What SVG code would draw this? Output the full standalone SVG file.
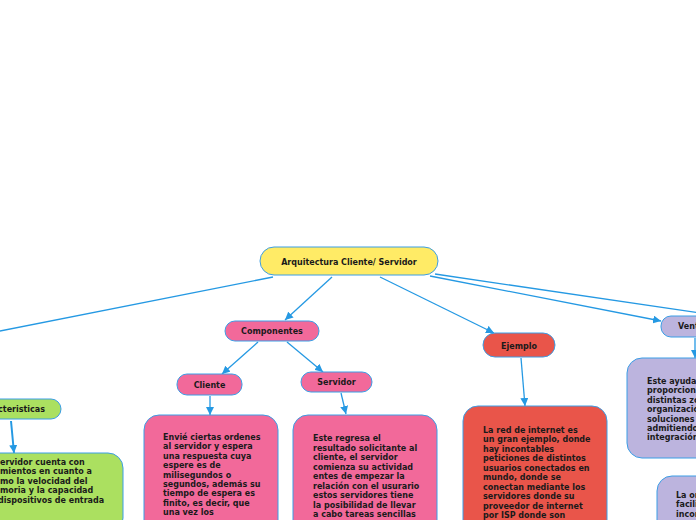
<svg xmlns="http://www.w3.org/2000/svg" width="696" height="520" viewBox="0 0 696 520">
<defs>
<style>
.t{font-family:"DejaVu Sans","Verdana",sans-serif;font-weight:bold;font-size:8px;fill:#1a1a1a}
.c{text-anchor:middle}
.ln{stroke:#2599e3;stroke-width:1.3;fill:none}
.nd{stroke:#3b9ee6;stroke-width:1}
.yel{fill:#ffeb66}
.pink{fill:#f2699a}
.red{fill:#e9554a}
.grn{fill:#abe060}
.lav{fill:#bcb4de}
</style>
<marker id="arr" viewBox="0 0 10 10" refX="10" refY="5" markerWidth="8" markerHeight="8" orient="auto" markerUnits="userSpaceOnUse"><path d="M0,0 L10,5 L0,10 z" fill="#2599e3"/></marker>
</defs>
<rect width="696" height="520" fill="#ffffff"/>
<g id="connectors">
<line class="ln" x1="273" y1="277" x2="-10" y2="333"/>
<line class="ln" x1="332" y1="277" x2="285" y2="320" marker-end="url(#arr)"/>
<line class="ln" x1="380" y1="277" x2="494" y2="333" marker-end="url(#arr)"/>
<line class="ln" x1="430" y1="276" x2="661" y2="321" marker-end="url(#arr)"/>
<line class="ln" x1="435" y1="274" x2="700" y2="313"/>
<line class="ln" x1="258" y1="342" x2="222" y2="374" marker-end="url(#arr)"/>
<line class="ln" x1="287" y1="342" x2="323" y2="372" marker-end="url(#arr)"/>
<line class="ln" x1="210" y1="396" x2="210" y2="415" marker-end="url(#arr)"/>
<line class="ln" x1="341" y1="393" x2="346" y2="414" marker-end="url(#arr)"/>
<line class="ln" x1="521" y1="358" x2="525" y2="406" marker-end="url(#arr)"/>
<line class="ln" style="stroke-width:2" x1="11" y1="421" x2="14" y2="453" marker-end="url(#arr)"/>
<line class="ln" x1="695" y1="338" x2="695" y2="358" marker-end="url(#arr)"/>
</g>
<g id="main">
<rect class="nd yel" x="260" y="247" width="178" height="28" rx="14"/>
<text class="t c" x="349" y="265">Arquitectura Cliente/ Servidor</text>
</g>
<g id="componentes">
<rect class="nd pink" x="225" y="321" width="94" height="20" rx="10"/>
<text class="t c" x="272" y="334">Componentes</text>
</g>
<g id="cliente">
<rect class="nd pink" x="177" y="374" width="65" height="21" rx="10"/>
<text class="t c" x="209.5" y="388">Cliente</text>
</g>
<g id="servidor">
<rect class="nd pink" x="301" y="372" width="71" height="20" rx="10"/>
<text class="t c" x="336.5" y="385">Servidor</text>
</g>
<g id="ejemplo">
<rect class="nd red" x="483" y="333" width="72" height="24" rx="12"/>
<text class="t c" x="519" y="349">Ejemplo</text>
</g>
<g id="ventajas">
<rect class="nd lav" x="661" y="316" width="90" height="21" rx="10"/>
<text class="t" x="678" y="329">Ventajas</text>
</g>
<g id="caracteristicas">
<rect class="nd grn" x="-60" y="399" width="121" height="20" rx="10"/>
<text class="t" text-anchor="end" x="45" y="412">Caracteristicas</text>
</g>
<g id="cliente-desc">
<rect class="nd pink" x="144" y="415" width="134" height="130" rx="15"/>
<text class="t" x="163" y="440">
<tspan x="163" dy="0">Envié ciertas ordenes</tspan>
<tspan x="163" dy="9.4">al servidor y espera</tspan>
<tspan x="163" dy="9.4">una respuesta cuya</tspan>
<tspan x="163" dy="9.4">espere es de</tspan>
<tspan x="163" dy="9.4">milisegundos o</tspan>
<tspan x="163" dy="9.4">segundos, además su</tspan>
<tspan x="163" dy="9.4">tiempo de espera es</tspan>
<tspan x="163" dy="9.4">finito, es decir, que</tspan>
<tspan x="163" dy="9.4">una vez los</tspan>
</text>
</g>
<g id="servidor-desc">
<rect class="nd pink" x="293" y="415" width="144" height="130" rx="15"/>
<text class="t" x="313" y="441">
<tspan x="313" dy="0">Este regresa el</tspan>
<tspan x="313" dy="9.5">resultado solicitante al</tspan>
<tspan x="313" dy="9.5">cliente, el servidor</tspan>
<tspan x="313" dy="9.5">comienza su actividad</tspan>
<tspan x="313" dy="9.5">entes de empezar la</tspan>
<tspan x="313" dy="9.5">relación con el usurario</tspan>
<tspan x="313" dy="9.5">estos servidores tiene</tspan>
<tspan x="313" dy="9.5">la posibilidad de llevar</tspan>
<tspan x="313" dy="9.5">a cabo tareas sencillas</tspan>
</text>
</g>
<g id="ejemplo-desc">
<rect class="nd red" x="463" y="406" width="144" height="140" rx="15"/>
<text class="t" x="483" y="433">
<tspan x="483" dy="0">La red de internet es</tspan>
<tspan x="483" dy="9.45">un gran ejemplo, donde</tspan>
<tspan x="483" dy="9.45">hay incontables</tspan>
<tspan x="483" dy="9.45">peticiones de distintos</tspan>
<tspan x="483" dy="9.45">usuarios conectados en</tspan>
<tspan x="483" dy="9.45">mundo, donde se</tspan>
<tspan x="483" dy="9.45">conectan mediante los</tspan>
<tspan x="483" dy="9.45">servidores donde su</tspan>
<tspan x="483" dy="9.45">proveedor de internet</tspan>
<tspan x="483" dy="9.45">por ISP donde son</tspan>
</text>
</g>
<g id="caracteristicas-desc">
<rect class="nd grn" x="-60" y="453" width="183" height="80" rx="15"/>
<text class="t" y="465">
<tspan x="0" dy="0">ervidor cuenta con</tspan>
<tspan x="0" dy="9.4">mientos en cuanto a</tspan>
<tspan x="0" dy="9.4">mo la velocidad del</tspan>
<tspan x="0" dy="9.4">moria y la capacidad</tspan>
<tspan x="-2" dy="9.4">dispositivos de entrada</tspan>
</text>
</g>
<g id="ventajas-desc1">
<rect class="nd lav" x="627" y="358" width="120" height="100" rx="15"/>
<text class="t" y="384">
<tspan x="647" dy="0">Este ayuda</tspan>
<tspan x="647" dy="9.4">proporcion</tspan>
<tspan x="647" dy="9.4">distintas zo</tspan>
<tspan x="647" dy="9.4">organizació</tspan>
<tspan x="647" dy="9.4">soluciones</tspan>
<tspan x="647" dy="9.4">admitiendo</tspan>
<tspan x="647" dy="9.4">integración</tspan>
</text>
</g>
<g id="ventajas-desc2">
<rect class="nd lav" x="657" y="476" width="100" height="80" rx="15"/>
<text class="t" y="498">
<tspan x="676" dy="0">La or</tspan>
<tspan x="676" dy="9.4">facili</tspan>
<tspan x="676" dy="9.4">incor</tspan>
</text>
</g>
</svg>
